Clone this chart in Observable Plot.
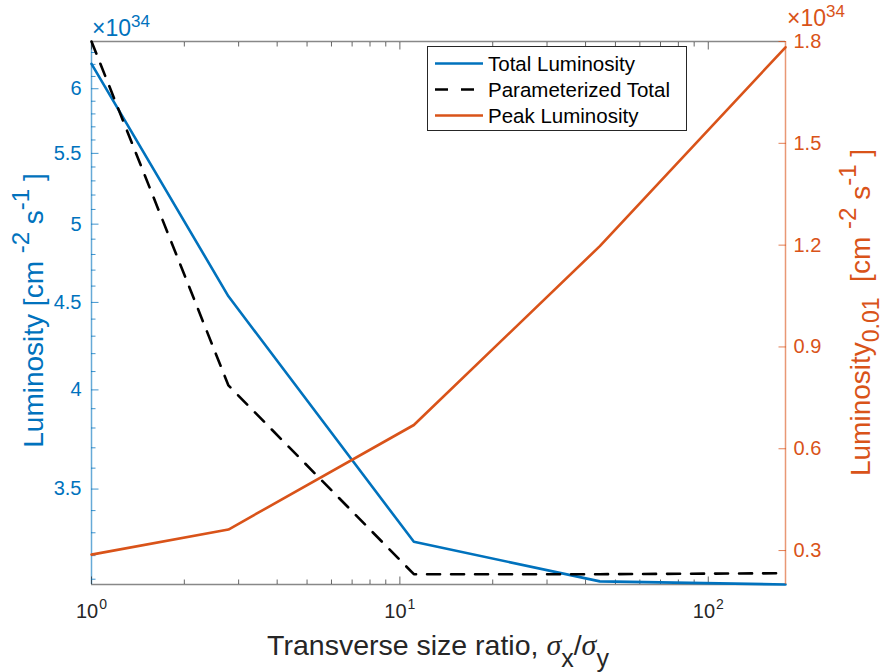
<!DOCTYPE html>
<html>
<head>
<meta charset="utf-8">
<script src="https://cdn.jsdelivr.net/npm/d3@7"></script>
<script src="https://cdn.jsdelivr.net/npm/@observablehq/plot@0.6"></script>
<style>
  body { margin: 0; background: #fff; }
  #chart { position: relative; width: 885px; height: 672px; font-family: "Liberation Sans", Arial, sans-serif; }
  #chart > svg { position: absolute; left: 0; top: 0; }
  #legend { position: absolute; }
</style>
</head>
<body>
<div id="chart"></div>
<script>
// ---- data ----
const ratio      = [1, 2.78, 11.1, 44.5, 178];          // sigma_x / sigma_y
const totalLum   = [6.205, 4.537, 3.26, 3.091, 3.078];  // x1e34, left log axis
const paramTotal = [6.394, 4.024, 3.121, 3.121, 3.125]; // x1e34, left log axis
const peakLum    = [0.288, 0.362, 0.67, 1.197, 1.783];  // x1e34, right linear axis

const xTicks     = [1, 10, 100];
const xMinor     = [2,3,4,5,6,7,8,9,20,30,40,50,60,70,80,90];
const leftTicks  = [3.5, 4, 4.5, 5, 5.5, 6];
const leftMinor  = [3.1,3.2,3.3,3.4,3.6,3.7,3.8,3.9,4.1,4.2,4.3,4.4,4.6,4.7,4.8,4.9,5.1,5.2,5.3,5.4,5.6,5.7,5.8,5.9,6.1,6.2,6.3];
const rightTicks = [0.3, 0.6, 0.9, 1.2, 1.5, 1.8];

const xDomain     = [1, 178];
const leftDomain  = [3.078, 6.394];
const rightDomain = [0.2, 1.8];

const legendLabels = ["Total Luminosity", "Parameterized Total", "Peak Luminosity"];

// ---- styling ----
const W = 885, H = 672;
const M = {left: 91, right: 100, top: 41, bottom: 88};
const blue = "#0072BD", orange = "#D95319", dark = "#262626";
const FONT = "Liberation Sans, Arial, Helvetica, sans-serif";
const dash = "13,11";

const rows = ratio.map((r, i) => ({r, total: totalLum[i], param: paramTotal[i], peak: peakLum[i]}));

const common = {
  width: W, height: H,
  marginLeft: M.left, marginRight: M.right, marginTop: M.top, marginBottom: M.bottom,
};

const p1 = Plot.plot({
  ...common,
  style: {fontFamily: FONT, fontSize: "20px", background: "#fff", overflow: "visible"},
  x: {type: "log", domain: xDomain},
  y: {type: "log", domain: leftDomain},
  marks: [
    // box lines
    Plot.ruleY([leftDomain[0]], {stroke: dark, strokeOpacity: 0.55, strokeWidth: 1.5}),
    Plot.ruleY([leftDomain[1]], {stroke: dark, strokeOpacity: 0.55, strokeWidth: 1.5}),
    Plot.ruleX([xDomain[0]], {stroke: blue, strokeOpacity: 0.6, strokeWidth: 1.5}),
    // x ticks (inward), bottom and top
    Plot.axisX(xMinor, {anchor: "bottom", tickSize: -4.5, text: null, label: null, stroke: dark, strokeOpacity: 0.7}),
    Plot.axisX(xMinor, {anchor: "top", tickSize: -4.5, text: null, label: null, stroke: dark, strokeOpacity: 0.7}),
    Plot.axisX(xTicks, {anchor: "bottom", tickSize: -7.5, text: null, label: null, stroke: dark, strokeOpacity: 0.7}),
    Plot.axisX(xTicks, {anchor: "top", tickSize: -7.5, text: null, label: null, stroke: dark, strokeOpacity: 0.7}),
    Plot.axisX(xTicks, {anchor: "bottom", tickSize: 0, tickPadding: 19, label: null, fontSize: 20, fill: dark,
                        tickFormat: d => "10^" + Math.round(Math.log10(d))}),
    // left y ticks
    Plot.axisY(leftMinor, {anchor: "left", tickSize: -4.5, text: null, label: null, stroke: blue, strokeOpacity: 0.75}),
    Plot.axisY(leftTicks, {anchor: "left", tickSize: -7.5, text: null, label: null, stroke: blue, strokeOpacity: 0.75}),
    Plot.axisY(leftTicks, {anchor: "left", tickSize: 0, tickPadding: 10, label: null, fontSize: 20, fill: blue,
                           tickFormat: d => String(d)}),
    // data
    Plot.line(rows, {x: "r", y: "total", stroke: blue, strokeWidth: 2.6}),
    Plot.line(rows, {x: "r", y: "param", stroke: "#000", strokeWidth: 2.6, strokeDasharray: dash})
  ]
});

const p2 = Plot.plot({
  ...common,
  style: {fontFamily: FONT, fontSize: "20px", background: "transparent", overflow: "visible"},
  x: {type: "log", domain: xDomain, axis: null},
  y: {domain: rightDomain},
  marks: [
    Plot.ruleX([xDomain[1]], {stroke: orange, strokeOpacity: 0.6, strokeWidth: 1.5}),
    Plot.axisY(rightTicks, {anchor: "right", tickSize: -7.5, text: null, label: null, stroke: orange, strokeOpacity: 0.75}),
    Plot.axisY(rightTicks, {anchor: "right", tickSize: 0, tickPadding: 8, label: null, fontSize: 20, fill: orange,
                            tickFormat: d => String(d)}),
    Plot.line(rows, {x: "r", y: "peak", stroke: orange, strokeWidth: 2.6})
  ]
});

const chart = document.getElementById("chart");
chart.appendChild(p1);
chart.appendChild(p2);

// x tick labels as 10 with superscript
d3.select(p1).selectAll('g[aria-label="x-axis tick label"] text').each(function() {
  const t = d3.select(this);
  const s = this.textContent.split("^");
  t.text(null);
  t.append("tspan").text(s[0]);
  t.append("tspan").attr("font-size", "14px").attr("dy", -9).attr("dx", 1).text(s[1]);
});

// rich-text helper
function rich(parent, parts, attrs) {
  const t = parent.append("text");
  for (const [k, v] of Object.entries(attrs)) t.attr(k, v);
  let shift = 0;
  for (const p of parts) {
    const ts = t.append("tspan").text(p.t);
    const target = p.dy || 0;
    ts.attr("dy", target - shift);
    shift = target;
    if (p.size) ts.attr("font-size", p.size);
    if (p.family) ts.attr("font-family", p.family);
    if (p.style) ts.attr("font-style", p.style);
  }
  return t;
}

const svg = d3.select(p1);
const svg2 = d3.select(p2);

// x10^34 multipliers
rich(svg, [{t: "\u00d710", size: "23px"}, {t: "34", dy: -9, size: "17px"}],
  {x: 92, y: 36, fill: blue, "font-family": FONT, "text-anchor": "start"});
rich(svg2, [{t: "\u00d710", size: "23px"}, {t: "34", dy: -9, size: "17px"}],
  {x: 787, y: 26, fill: orange, "font-family": FONT, "text-anchor": "start"});

const cy = (M.top + (H - M.bottom)) / 2;

// left y label
rich(svg, [
  {t: "Luminosity [cm "}, {t: "-2", dy: -14, size: "24px"}, {t: " s"}, {t: "-1", dy: -14, size: "24px"}, {t: " ]"}
], {transform: `translate(43,${cy - 2}) rotate(-90)`, "text-anchor": "middle", fill: blue, "font-size": 28, "font-family": FONT});

// right y label
rich(svg2, [
  {t: "Luminosity"}, {t: "0.01", dy: 9, size: "23px"}, {t: "  [cm "}, {t: "-2", dy: -14, size: "24px"}, {t: " s"}, {t: "-1", dy: -14, size: "24px"}, {t: " ]"}
], {transform: `translate(870,${cy}) rotate(-90)`, "text-anchor": "middle", fill: orange, "font-size": 28, "font-family": FONT});

// x label
const serif = "Liberation Serif, Times New Roman, serif";
rich(svg, [
  {t: "Transverse size ratio, "}, {t: "\u03c3", family: serif, style: "italic", size: "30px"}, {t: "x", dy: 12, size: "25px"},
  {t: "/"}, {t: "\u03c3", family: serif, style: "italic", size: "30px"}, {t: "y", dy: 12, size: "25px"}
], {x: (M.left + W - M.right) / 2, y: 655, "text-anchor": "middle", fill: dark, "font-size": 28.5, "font-family": FONT});

// legend
const lg = d3.select(chart).append("svg").attr("id", "legend")
  .attr("width", 261).attr("height", 86)
  .style("left", "427px").style("top", "46px");
lg.append("rect").attr("x", 0.5).attr("y", 0.5).attr("width", 259).attr("height", 84)
  .attr("fill", "#fff").attr("stroke", dark).attr("stroke-width", 1);
const legendStyles = [
  {stroke: blue, dash: null},
  {stroke: "#000", dash: "13,13"},
  {stroke: orange, dash: null}
];
legendLabels.forEach((lab, i) => {
  const y = 17.5 + i * 26;
  lg.append("line").attr("x1", 8).attr("x2", 56).attr("y1", y).attr("y2", y)
    .attr("stroke", legendStyles[i].stroke).attr("stroke-width", 2.6)
    .attr("stroke-dasharray", legendStyles[i].dash);
  lg.append("text").attr("x", 61).attr("y", y).attr("dy", "0.36em")
    .attr("font-size", 20.5).attr("font-family", FONT).attr("fill", "#000").text(lab);
});
</script>
</body>
</html>
